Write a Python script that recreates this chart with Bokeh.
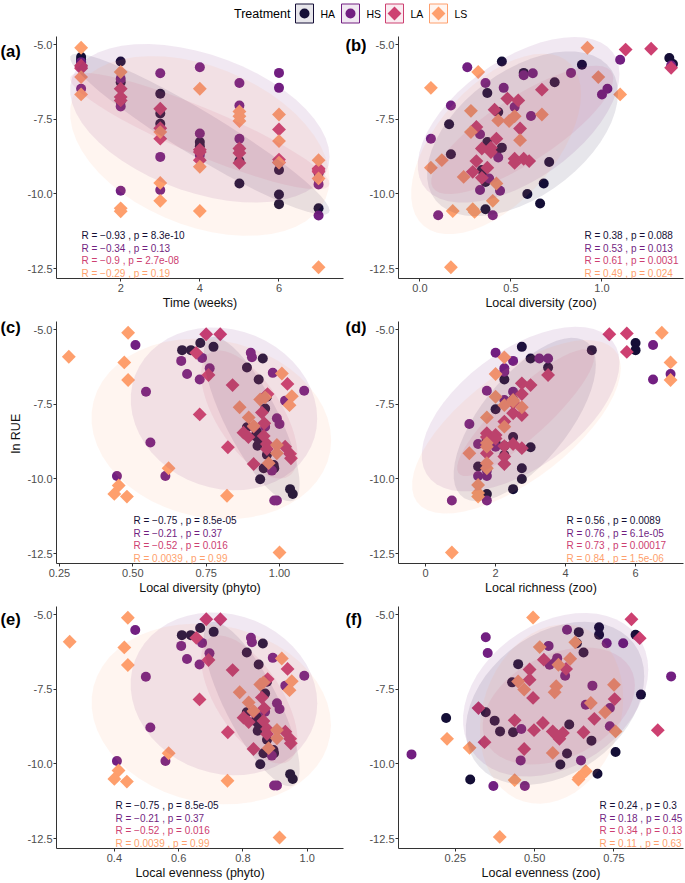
import numpy as np
from bokeh.plotting import figure
from bokeh.models import Range1d, FixedTicker, Label
from bokeh.layouts import column, row
from bokeh.embed import file_html
from bokeh.resources import INLINE

FONT = "Liberation Sans"
TREATMENTS = ["HA", "HS", "LA", "LS"]
COLORS = ["#140E36", "#721F81", "#CD4071", "#FE9F6D"]
ELLIPSE_LEVEL = 0.70

# ---------------- panel (a): time ----------------
WEEKS = [1, 1, 1, 2, 2, 2, 3, 3, 3, 4, 4, 4, 5, 5, 5, 6, 6, 6, 7, 7, 7]
A_HA_Y = [-5.42, -5.51, -5.58, -5.57, -6.26, -6.90, -6.65, -7.31, -7.65, -8.26, -8.40, -8.60, -8.50, -8.90, -9.65, -9.20, -10.02, -10.34, -9.30, -9.50, -10.48]
A_HS_Y = [-5.59, -5.75, -6.48, -6.15, -7.07, -9.89, -5.96, -8.76, -9.87, -5.76, -7.98, -8.70, -6.29, -7.04, -8.15, -5.95, -6.45, -8.90, -9.20, -9.68, -10.72]
A_LA_Y = [-5.70, -5.75, -5.80, -6.48, -6.76, -6.87, -7.15, -7.80, -8.15, -8.52, -8.60, -8.87, -8.48, -8.63, -8.96, -7.84, -8.85, -8.95, -9.15, -9.20, -9.26]
A_LS_Y = [-5.11, -6.09, -6.67, -5.92, -10.48, -10.58, -7.93, -9.63, -10.23, -6.48, -9.09, -10.57, -7.24, -7.40, -7.56, -7.34, -8.23, -8.95, -8.87, -9.48, -12.45]

# ---------------- panel (b): local diversity (zoo) ----------------
B_HA_X = [0.45, 0.89, 0.57, 0.74, 0.37, 0.43, 0.16, 0.37, 0.45, 0.17, 0.71, 0.34, 0.68, 0.59, 0.66, 0.36, 1.37, 1.39, 0.35, 0.36, 0.42]
B_HA_Y = [-5.57, -5.68, -5.95, -6.26, -6.62, -7.26, -7.67, -8.26, -8.45, -8.67, -8.93, -9.20, -9.65, -10.00, -10.32, -10.51, -5.45, -5.65, -9.39, -9.60, -8.60]
B_HS_X = [0.26, 1.10, 0.62, 0.57, 0.83, 0.36, 0.46, 1.03, 1.00, 0.17, 0.52, 0.61, 0.06, 0.33, 0.43, 0.38, 0.33, 0.44, 0.10, 0.40, 1.38]
B_HS_Y = [-5.76, -5.51, -5.96, -6.03, -5.95, -6.29, -6.45, -6.48, -6.67, -7.04, -7.09, -7.39, -8.15, -8.00, -8.78, -9.48, -9.87, -9.89, -10.71, -10.71, -5.70]
B_LA_X = [1.13, 1.27, 1.38, 0.67, 0.48, 0.54, 0.41, 0.31, 0.55, 0.42, 0.34, 0.39, 0.31, 0.52, 0.57, 0.60, 0.37, 0.29, 0.34, 0.52, 0.39]
B_LA_Y = [-5.17, -5.14, -5.78, -6.51, -6.81, -6.87, -7.18, -7.76, -7.81, -8.15, -8.48, -8.45, -8.90, -8.82, -8.82, -8.90, -9.12, -9.26, -9.46, -8.96, -8.60]
B_LS_X = [0.92, 0.06, 0.32, 0.98, 1.10, 0.28, 0.28, 0.43, 0.49, 0.52, 0.67, 0.55, 0.06, 0.12, 0.24, 0.42, 0.40, 0.18, 0.29, 0.30, 0.17]
B_LS_Y = [-5.11, -6.45, -5.92, -6.09, -6.67, -7.22, -7.93, -7.54, -7.56, -7.40, -7.34, -8.20, -9.12, -8.87, -9.43, -9.65, -10.23, -10.57, -10.51, -10.60, -12.45]

# ---------------- panels (c) and (e): phyto diversity / evenness ----------------
CE_HA_Y = [-5.69, -5.69, -5.45, -5.58, -6.27, -5.97, -6.67, -7.25, -7.64, -8.27, -8.42, -8.56, -8.67, -8.89, -9.19, -9.53, -9.64, -10.01, -10.34, -10.50, -9.64]
CE_HS_Y = [-5.52, -6.05, -5.95, -5.78, -5.93, -6.49, -6.67, -6.30, -6.45, -7.05, -7.08, -7.38, -7.97, -8.16, -8.78, -9.90, -9.90, -9.72, -10.72, -10.72, -8.25]
CE_LA_Y = [-5.16, -5.16, -5.78, -6.52, -6.86, -6.82, -7.16, -7.84, -7.78, -8.14, -8.45, -8.60, -8.56, -8.94, -8.83, -8.92, -9.16, -9.50, -9.31, -9.00, -8.25]
CE_LS_Y = [-5.91, -5.11, -6.10, -6.69, -9.64, -10.22, -10.50, -10.59, -10.56, -12.46, -6.47, -7.23, -7.53, -7.60, -7.34, -7.27, -7.94, -8.23, -8.86, -9.14, -9.47]
C_HA_X = [0.668, 0.698, 0.730, 0.775, 0.889, 0.943, 0.929, 0.957, 0.951, 0.889, 0.923, 0.917, 0.929, 0.925, 0.957, 0.980, 0.946, 0.934, 1.036, 1.045, 0.982]
C_HS_X = [0.509, 0.665, 0.736, 0.902, 0.906, 0.685, 0.728, 0.762, 0.977, 1.084, 0.545, 1.019, 0.991, 1.000, 0.560, 0.446, 0.611, 0.974, 0.982, 0.991, 0.951]
C_LA_X = [0.750, 0.798, 0.716, 0.758, 0.840, 1.027, 0.959, 0.728, 0.940, 0.948, 0.877, 0.894, 0.946, 0.824, 0.957, 1.019, 1.036, 0.912, 1.039, 0.957, 0.912]
C_LS_X = [0.282, 0.484, 0.471, 0.484, 0.622, 0.452, 0.437, 0.480, 0.821, 1.000, 1.008, 1.042, 1.034, 0.864, 0.934, 0.951, 0.895, 0.912, 0.991, 0.991, 0.963]
E_HA_X = [0.610, 0.638, 0.667, 0.709, 0.812, 0.862, 0.849, 0.875, 0.869, 0.812, 0.844, 0.838, 0.849, 0.846, 0.875, 0.895, 0.864, 0.854, 0.947, 0.955, 0.897]
E_HS_X = [0.465, 0.608, 0.673, 0.825, 0.828, 0.626, 0.665, 0.696, 0.893, 0.991, 0.498, 0.932, 0.906, 0.914, 0.512, 0.408, 0.559, 0.890, 0.897, 0.906, 0.869]
E_LA_X = [0.686, 0.730, 0.655, 0.693, 0.768, 0.939, 0.877, 0.665, 0.859, 0.866, 0.802, 0.818, 0.864, 0.753, 0.875, 0.932, 0.947, 0.833, 0.949, 0.875, 0.833]
E_LS_X = [0.261, 0.442, 0.431, 0.442, 0.569, 0.413, 0.400, 0.439, 0.752, 0.914, 0.921, 0.952, 0.945, 0.790, 0.854, 0.864, 0.818, 0.833, 0.906, 0.906, 0.880]

# ---------------- panel (d): local richness (zoo) ----------------
D_HA_X = [6.0, 6.0, 4.75, 2.75, 3.0, 3.5, 2.25, 2.0, 1.75, 2.0, 3.0, 1.5, 2.75, 2.75, 2.5, 1.75, 2.5, 2.25, 2.5, 2.25, 1.75]
D_HA_Y = [-5.45, -5.69, -5.69, -5.58, -5.97, -6.27, -6.67, -7.67, -8.67, -8.80, -8.94, -9.58, -9.64, -10.00, -10.34, -10.50, -7.35, -8.90, -8.60, -9.20, -8.75]
D_HS_X = [2.0, 2.5, 3.25, 3.5, 2.25, 2.25, 6.5, 7.0, 6.5, 1.75, 2.5, 2.25, 1.25, 1.5, 2.0, 1.5, 1.75, 0.75, 1.75, 2.5, 1.75]
D_HS_Y = [-5.78, -6.05, -5.97, -5.97, -6.30, -6.41, -5.52, -6.49, -6.67, -7.05, -7.08, -7.36, -8.16, -8.83, -8.92, -9.90, -9.90, -10.72, -10.72, -7.40, -9.72]
D_LA_X = [5.25, 5.75, 5.75, 3.5, 2.75, 3.0, 2.75, 2.5, 2.75, 2.25, 1.75, 2.0, 1.75, 2.25, 2.5, 2.75, 2.25, 2.25, 2.0, 1.75, 2.5]
D_LA_Y = [-5.16, -5.13, -5.75, -6.52, -6.80, -6.86, -7.16, -7.80, -7.86, -8.08, -8.47, -8.53, -9.14, -8.90, -8.83, -8.97, -9.25, -9.50, -8.65, -8.60, -7.45]
D_LS_X = [6.75, 7.0, 7.0, 2.25, 2.0, 2.0, 2.25, 2.5, 2.75, 1.75, 2.25, 1.75, 1.25, 1.75, 1.75, 1.5, 1.5, 1.5, 0.75, 2.5, 1.75]
D_LS_Y = [-5.11, -6.10, -6.69, -5.93, -6.49, -7.25, -7.53, -7.36, -7.60, -7.94, -8.25, -8.92, -9.14, -9.47, -9.64, -10.20, -10.47, -10.59, -12.46, -7.40, -8.80]

# ---------------- panel (f): local evenness (zoo) ----------------
F_HA_X = [0.703, 0.639, 0.703, 0.818, 0.633, 0.654, 0.448, 0.429, 0.835, 0.221, 0.346, 0.374, 0.391, 0.432, 0.609, 0.679, 0.602, 0.581, 0.755, 0.698, 0.297]
F_HA_Y = [-5.43, -5.59, -5.68, -5.68, -5.96, -6.27, -6.66, -7.27, -7.68, -8.46, -8.27, -8.55, -8.91, -8.94, -8.68, -9.22, -9.65, -10.02, -9.60, -10.33, -10.52]
F_HS_X = [0.602, 0.346, 0.352, 0.544, 0.547, 0.571, 0.596, 0.682, 0.727, 0.779, 0.930, 0.661, 0.737, 0.737, 0.458, 0.646, 0.456, 0.112, 0.370, 0.469, 0.565]
F_HS_Y = [-5.51, -5.76, -6.29, -6.05, -6.68, -6.46, -7.05, -7.38, -5.96, -5.96, -7.07, -8.02, -8.13, -8.74, -8.83, -9.88, -9.88, -9.68, -10.74, -10.74, -6.60]
F_LA_X = [0.805, 0.831, 0.529, 0.599, 0.484, 0.484, 0.495, 0.752, 0.323, 0.688, 0.437, 0.526, 0.498, 0.557, 0.589, 0.578, 0.654, 0.342, 0.467, 0.888, 0.570]
F_LA_Y = [-5.16, -5.79, -6.51, -6.82, -6.84, -7.18, -7.79, -7.83, -8.13, -8.49, -8.54, -8.63, -8.87, -8.91, -8.96, -9.16, -8.94, -9.27, -9.50, -8.87, -9.05]
F_LS_X = [0.495, 0.516, 0.628, 0.612, 0.575, 0.448, 0.467, 0.568, 0.563, 0.677, 0.722, 0.750, 0.755, 0.224, 0.295, 0.557, 0.661, 0.638, 0.437, 0.390, 0.640]
F_LS_Y = [-5.10, -6.09, -5.93, -6.48, -6.68, -7.24, -7.51, -7.40, -7.60, -7.96, -8.27, -7.35, -8.91, -9.16, -9.46, -9.63, -10.24, -10.52, -10.54, -12.44, -10.45]

# ---------------- correlation labels ----------------
STATS_A = ["R = \u22120.93 , p = 8.3e-10", "R = \u22120.34 , p = 0.13", "R = \u22120.9 , p = 2.7e-08", "R = \u22120.29 , p = 0.19"]
STATS_B = ["R = 0.38 , p = 0.088", "R = 0.53 , p = 0.013", "R = 0.61 , p = 0.0031", "R = 0.49 , p = 0.024"]
STATS_C = ["R = \u22120.75 , p = 8.5e-05", "R = \u22120.21 , p = 0.37", "R = \u22120.52 , p = 0.016", "R = 0.0039 , p = 0.99"]
STATS_D = ["R = 0.56 , p = 0.0089", "R = 0.76 , p = 6.1e-05", "R = 0.73 , p = 0.00017", "R = 0.84 , p = 1.5e-06"]
STATS_E = ["R = \u22120.75 , p = 8.5e-05", "R = \u22120.21 , p = 0.37", "R = \u22120.52 , p = 0.016", "R = 0.0039 , p = 0.99"]
STATS_F = ["R = 0.24 , p = 0.3", "R = 0.18 , p = 0.45", "R = 0.34 , p = 0.13", "R = 0.11 , p = 0.63"]

Y_TICKS = [-12.5, -10.0, -7.5, -5.0]
Y_TICK_LABELS = ["-12.5", "-10.0", "-7.5", "-5.0"]
Y_TITLE = "ln RUE"
LEGEND_TITLE = "Treatment"

PANELS = [
    dict(tag="(a)", xlabel="Time (weeks)", xr=(0.378, 7.63), ticks=[2, 4, 6], labels=["2", "4", "6"],
         data=[(WEEKS, A_HA_Y), (WEEKS, A_HS_Y), (WEEKS, A_LA_Y), (WEEKS, A_LS_Y)], stats=STATS_A,
         side="left", tx=25, tag_dy=17),
    dict(tag="(b)", xlabel="Local diversity (zoo)", xr=(-0.118, 1.448), ticks=[0.0, 0.5, 1.0], labels=["0.0", "0.5", "1.0"],
         data=[(B_HA_X, B_HA_Y), (B_HS_X, B_HS_Y), (B_LA_X, B_LA_Y), (B_LS_X, B_LS_Y)], stats=STATS_B,
         side="right", tx=101, tag_dy=10),
    dict(tag="(c)", xlabel="Local diversity (phyto)", xr=(0.240, 1.218), ticks=[0.25, 0.5, 0.75, 1.0], labels=["0.25", "0.50", "0.75", "1.00"],
         data=[(C_HA_X, CE_HA_Y), (C_HS_X, CE_HS_Y), (C_LA_X, CE_LA_Y), (C_LS_X, CE_LS_Y)], stats=STATS_C,
         side="left", tx=77, tag_dy=7, ylabel=True),
    dict(tag="(d)", xlabel="Local richness (zoo)", xr=(-0.775, 7.37), ticks=[0, 2, 4, 6], labels=["0", "2", "4", "6"],
         data=[(D_HA_X, D_HA_Y), (D_HS_X, D_HS_Y), (D_LA_X, D_LA_Y), (D_LS_X, D_LS_Y)], stats=STATS_D,
         side="right", tx=119, tag_dy=7),
    dict(tag="(e)", xlabel="Local evenness (phyto)", xr=(0.220, 1.113), ticks=[0.4, 0.6, 0.8, 1.0], labels=["0.4", "0.6", "0.8", "1.0"],
         data=[(E_HA_X, CE_HA_Y), (E_HS_X, CE_HS_Y), (E_LA_X, CE_LA_Y), (E_LS_X, CE_LS_Y)], stats=STATS_E,
         side="left", tx=59, tag_dy=15),
    dict(tag="(f)", xlabel="Local evenness (zoo)", xr=(0.071, 0.969), ticks=[0.25, 0.5, 0.75], labels=["0.25", "0.50", "0.75"],
         data=[(F_HA_X, F_HA_Y), (F_HS_X, F_HS_Y), (F_LA_X, F_LA_Y), (F_LS_X, F_LS_Y)], stats=STATS_F,
         side="right", tx=86, tag_dy=15),
]

# y range: data extent expanded by 5 % (as ggplot does)
all_y = np.concatenate([np.asarray(d[1], float) for pnl in PANELS for d in pnl["data"]])
ypad = 0.05 * (all_y.max() - all_y.min())
Y_RANGE = (all_y.min() - ypad, all_y.max() + ypad)

# layout (pixels)
TAG_W_LEFT, TAG_W_RIGHT = 22, 21
PANEL_BL_LEFT, PANEL_BL_RIGHT = 34, 30
FRAME_W = 287
PANEL_BR = 2
ROWS = [(8, 242, 35), (8, 242, 35), (8, 242, 34)]
LEG_W, LEG_H = 685, 28
STAT_DY = [43, 30.5, 18, 5.5]
AXIS_COLOR = "#333333"
CIRCLE_SIZE = 10
DIAMOND_SIZE = 9.8


def ellipse_xy(x, y, level=ELLIPSE_LEVEL, segments=51):
    pts = np.column_stack([x, y]).astype(float)
    n = len(pts)
    center = pts.mean(axis=0)
    cov = np.cov(pts, rowvar=False)
    dfd = n - 1
    fq = (dfd / 2.0) * ((1.0 - level) ** (-2.0 / dfd) - 1.0)  # qf(level, 2, dfd)
    radius = np.sqrt(2.0 * fq)
    ang = np.linspace(0, 2 * np.pi, segments + 1)
    circ = np.column_stack([np.cos(ang), np.sin(ang)])
    chol = np.linalg.cholesky(cov).T
    e = center + radius * (circ @ chol)
    return e[:, 0], e[:, 1]


def style_axis(ax):
    ax.axis_line_color = AXIS_COLOR
    ax.axis_line_width = 1
    ax.major_tick_line_color = AXIS_COLOR
    ax.minor_tick_line_color = None
    ax.major_tick_in = 0
    ax.major_tick_out = 3
    ax.major_label_text_font = FONT
    ax.major_label_text_font_size = "11px"
    ax.major_label_text_color = "#4D4D4D"
    ax.axis_label_text_font = FONT
    ax.axis_label_text_font_size = "12.5px"
    ax.axis_label_text_font_style = "normal"
    ax.axis_label_text_color = "#111111"


def blank_fig(w, h):
    f = figure(width=w, height=h, x_range=Range1d(0, w), y_range=Range1d(0, h),
               output_backend="svg", toolbar_location=None, x_axis_type=None, y_axis_type=None,
               min_border=0)
    f.grid.visible = False
    f.outline_line_color = None
    return f


def add_marker(p, x, y, i):
    if TREATMENTS[i] in ("HA", "HS"):
        p.scatter(x, y, marker="circle", size=CIRCLE_SIZE, fill_color=COLORS[i], line_color=None)
    else:
        p.scatter(x, y, marker="square", angle=np.pi / 4, size=DIAMOND_SIZE, fill_color=COLORS[i], line_color=None)


def make_tag_fig(spec, is_left, h):
    w = TAG_W_LEFT if is_left else TAG_W_RIGHT
    f = blank_fig(w, h)
    f.add_layout(Label(x=0, y=h - spec["tag_dy"], text=spec["tag"], text_font=FONT,
                       text_font_size="16.5px", text_font_style="bold", text_color="black",
                       text_baseline="middle", text_align="left"))
    if spec.get("ylabel"):
        f.add_layout(Label(x=15, y=h - 132, text=Y_TITLE, text_font=FONT, text_font_size="12.5px",
                           text_color="#111111", angle=np.pi / 2, text_baseline="middle",
                           text_align="center"))
    return f


def make_panel(spec, is_left, top, frame_h, bottom):
    bl = PANEL_BL_LEFT if is_left else PANEL_BL_RIGHT
    p = figure(width=bl + FRAME_W + PANEL_BR, height=top + frame_h + bottom,
               x_range=Range1d(*spec["xr"]), y_range=Range1d(*Y_RANGE),
               output_backend="svg", toolbar_location=None,
               min_border_left=bl, min_border_right=PANEL_BR, min_border_top=top, min_border_bottom=bottom)
    p.grid.visible = False
    p.outline_line_color = None
    p.background_fill_color = "white"
    p.border_fill_color = "white"

    for i, (x, y) in enumerate(spec["data"]):
        add_marker(p, x, y, i)
    for i, (x, y) in enumerate(spec["data"]):
        ex, ey = ellipse_xy(x, y)
        p.patch(ex, ey, fill_color=COLORS[i], fill_alpha=0.1, line_color=None)

    xa = p.xaxis[0]
    ya = p.yaxis[0]
    style_axis(xa)
    style_axis(ya)
    xa.ticker = FixedTicker(ticks=spec["ticks"])
    xa.major_label_overrides = {t: l for t, l in zip(spec["ticks"], spec["labels"])}
    xa.major_label_standoff = 2
    xa.axis_label = spec["xlabel"]
    xa.axis_label_standoff = 1
    ya.ticker = FixedTicker(ticks=Y_TICKS)
    ya.major_label_overrides = {t: l for t, l in zip(Y_TICKS, Y_TICK_LABELS)}
    ya.major_label_standoff = 1

    for i, txt in enumerate(spec["stats"]):
        xpos = spec["tx"] if spec["side"] == "left" else FRAME_W - spec["tx"]
        p.add_layout(Label(x=xpos, y=STAT_DY[i], x_units="screen", y_units="screen", text=txt,
                           text_color=COLORS[i], text_font=FONT, text_font_size="10px",
                           text_baseline="middle", text_align="left"))
    return p


rows = []
for r in range(3):
    top, fh, bot = ROWS[r]
    h = top + fh + bot
    items = []
    for k in (2 * r, 2 * r + 1):
        is_left = (k % 2 == 0)
        items.append(make_tag_fig(PANELS[k], is_left, h))
        items.append(make_panel(PANELS[k], is_left, top, fh, bot))
    rows.append(row(*items))

# ---------------- legend ----------------
leg = blank_fig(LEG_W, LEG_H)
KEY_X = [304, 350, 394, 438]
KEY_Y = 15
leg.add_layout(Label(x=290, y=KEY_Y, text=LEGEND_TITLE, text_font=FONT, text_font_size="12.5px",
                     text_color="black", text_baseline="middle", text_align="right"))
for i, t in enumerate(TREATMENTS):
    leg.rect(x=[KEY_X[i]], y=[KEY_Y], width=18, height=19, fill_color=COLORS[i], fill_alpha=0.1,
             line_color=COLORS[i], line_width=1)
    add_marker(leg, [KEY_X[i]], [KEY_Y], i)
    leg.add_layout(Label(x=KEY_X[i] + 16, y=KEY_Y, text=t, text_font=FONT, text_font_size="10.5px",
                         text_color="black", text_baseline="middle", text_align="left"))

layout = column(leg, *rows)
open("out.html", "w").write(file_html(layout, INLINE))
